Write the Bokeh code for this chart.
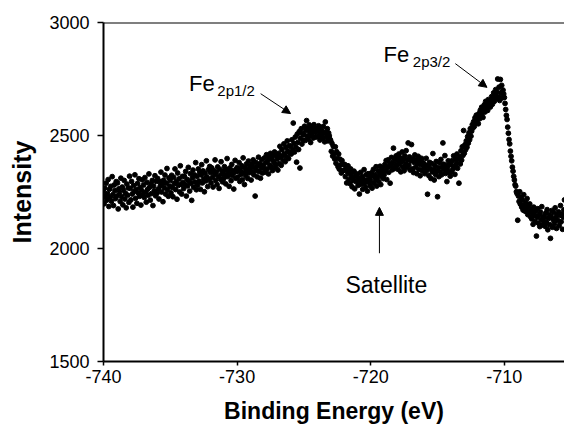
from bokeh.plotting import figure
from bokeh.models import (Range1d, Span, Arrow, NormalHead, Label, FixedTicker,
                          ColumnDataSource)
from bokeh.embed import file_html
from bokeh.resources import INLINE

# Binding energy sampling (eV): start and step of the scan
energy_start = -740.0
energy_step = 0.05

# Measured intensities, 20 samples per eV (rows start at -740, -739, ...)
intensity = [
    2251, 2198, 2267, 2230, 2289, 2214, 2243, 2305, 2186, 2262, 2227, 2275, 2209, 2318, 2238, 2190, 2281, 2256, 2221, 2296,
    2232, 2290, 2175, 2264, 2247, 2208, 2311, 2229, 2272, 2193, 2258, 2301, 2219, 2244, 2180, 2285, 2236, 2268, 2204, 2320,
    2266, 2215, 2297, 2241, 2183, 2279, 2253, 2326, 2222, 2262, 2200, 2288, 2245, 2309, 2231, 2270, 2192, 2257, 2304, 2238,
    2281, 2226, 2314, 2249, 2205, 2293, 2262, 2236, 2330, 2271, 2214, 2286, 2243, 2301, 2190, 2276, 2255, 2322, 2233, 2297,
    2244, 2310, 2263, 2219, 2296, 2277, 2338, 2250, 2285, 2207, 2302, 2268, 2325, 2241, 2289, 2354, 2259, 2231, 2312, 2276,
    2301, 2246, 2324, 2270, 2229, 2315, 2287, 2352, 2261, 2296, 2218, 2334, 2279, 2308, 2250, 2366, 2284, 2241, 2319, 2293,
    2265, 2320, 2283, 2341, 2232, 2306, 2277, 2359, 2298, 2254, 2331, 2289, 2213, 2312, 2347, 2271, 2326, 2294, 2380, 2260,
    2319, 2281, 2352, 2298, 2337, 2262, 2326, 2371, 2290, 2343, 2309, 2251, 2332, 2299, 2388, 2316, 2274, 2349, 2305, 2363,
    2336, 2290, 2357, 2314, 2272, 2345, 2326, 2392, 2301, 2338, 2283, 2361, 2319, 2266, 2350, 2307, 2384, 2329, 2295, 2342,
    2309, 2362, 2327, 2286, 2349, 2398, 2318, 2339, 2275, 2356, 2331, 2300, 2372, 2322, 2345, 2263, 2337, 2390, 2311, 2351,
    2358, 2316, 2341, 2380, 2297, 2349, 2328, 2366, 2304, 2401, 2337, 2283, 2356, 2322, 2374, 2343, 2310, 2387, 2335, 2362,
    2351, 2303, 2373, 2338, 2392, 2326, 2359, 2232, 2381, 2345, 2317, 2366, 2404, 2340, 2375, 2311, 2357, 2393, 2334, 2369,
    2356, 2401, 2338, 2379, 2415, 2352, 2388, 2330, 2404, 2369, 2421, 2361, 2395, 2345, 2410, 2383, 2427, 2372, 2358, 2412,
    2396, 2347, 2421, 2375, 2452, 2402, 2368, 2437, 2410, 2389, 2463, 2420, 2384, 2448, 2405, 2476, 2431, 2398, 2455, 2422,
    2452, 2418, 2481, 2436, 2555, 2465, 2427, 2493, 2449, 2382, 2506, 2470, 2438, 2517, 2356, 2488, 2530, 2462, 2509, 2478,
    2503, 2541, 2478, 2522, 2566, 2497, 2530, 2485, 2547, 2512, 2469, 2536, 2501, 2525, 2489, 2548, 2514, 2531, 2493, 2520,
    2527, 2496, 2543, 2512, 2480, 2535, 2503, 2521, 2488, 2540, 2509, 2472, 2560, 2515, 2493, 2530, 2476, 2511, 2498, 2483,
    2478, 2430, 2465, 2409, 2452, 2418, 2396, 2450, 2377, 2428, 2399, 2362, 2418, 2351, 2395, 2370, 2334, 2389, 2343, 2372,
    2347, 2372, 2318, 2353, 2290, 2339, 2366, 2305, 2331, 2287, 2352, 2316, 2273, 2335, 2301, 2342, 2264, 2318, 2296, 2330,
    2322, 2279, 2310, 2241, 2296, 2337, 2284, 2318, 2262, 2305, 2349, 2290, 2271, 2326, 2302, 2254, 2331, 2293, 2315, 2277,
    2298, 2335, 2267, 2319, 2350, 2288, 2327, 2304, 2362, 2276, 2315, 2343, 2297, 2330, 2364, 2283, 2341, 2318, 2357, 2309,
    2326, 2371, 2343, 2389, 2305, 2358, 2392, 2337, 2374, 2289, 2366, 2403, 2348, 2381, 2444, 2353, 2396, 2362, 2410, 2372,
    2391, 2350, 2418, 2372, 2401, 2339, 2385, 2427, 2361, 2396, 2344, 2410, 2376, 2433, 2358, 2392, 2467, 2369, 2405, 2347,
    2388, 2460, 2352, 2397, 2336, 2381, 2414, 2359, 2392, 2331, 2373, 2408, 2350, 2386, 2322, 2371, 2399, 2344, 2380, 2357,
    2374, 2331, 2362, 2399, 2345, 2240, 2368, 2322, 2381, 2353, 2310, 2376, 2339, 2420, 2348, 2303, 2366, 2327, 2385, 2342,
    2229, 2357, 2318, 2379, 2340, 2394, 2326, 2361, 2467, 2373, 2349, 2411, 2332, 2368, 2296, 2354, 2388, 2337, 2371, 2320,
    2372, 2339, 2389, 2351, 2410, 2363, 2328, 2397, 2376, 2418, 2355, 2393, 2289, 2406, 2374, 2432, 2391, 2450, 2412, 2522,
    2421, 2459, 2437, 2476, 2448, 2495, 2466, 2512, 2481, 2530, 2497, 2519, 2548, 2533, 2561, 2540, 2578, 2556, 2590, 2568,
    2583, 2552, 2597, 2574, 2612, 2589, 2625, 2601, 2580, 2618, 2636, 2604, 2651, 2622, 2643, 2611, 2659, 2630, 2648, 2626,
    2645, 2672, 2638, 2660, 2689, 2651, 2676, 2703, 2664, 2692, 2750, 2672, 2714, 2655, 2748, 2689, 2722, 2667, 2701, 2684,
    2668, 2642, 2615, 2589, 2571, 2537, 2510, 2482, 2463, 2431, 2408, 2388, 2360, 2342, 2319, 2303, 2282, 2276, 2251, 2243,
    2125, 2232, 2208, 2251, 2196, 2227, 2183, 2214, 2170, 2238, 2192, 2165, 2203, 2179, 2221, 2150, 2188, 2162, 2197, 2141,
    2172, 2131, 2158, 2107, 2183, 2146, 2119, 2165, 2055, 2138, 2176, 2112, 2149, 2097, 2161, 2128, 2185, 2104, 2142, 2121,
    2139, 2098, 2157, 2115, 2172, 2083, 2133, 2150, 2106, 2045, 2141, 2168, 2094, 2127, 2159, 2110, 2180, 2136, 2089, 2148,
    2124, 2162, 2101, 2147, 2190, 2118, 2153, 2085, 2139, 2171, 2215,
]
energy = [round(energy_start + energy_step * i, 2) for i in range(len(intensity))]

x_ticks = [-740, -730, -720, -710]
x_tick_labels = ["-740", "-730", "-720", "-710"]
y_ticks = [1500, 2000, 2500, 3000]
x_title = "Binding Energy (eV)"
y_title = "Intensity"

FONT = "Liberation Sans"

p = figure(width=564, height=426, output_backend="svg", toolbar_location=None,
           x_range=Range1d(-740, -705.5), y_range=Range1d(1500, 3000),
           min_border_left=103, min_border_right=0, min_border_top=22,
           min_border_bottom=64)
p.outline_line_color = None
p.xgrid.visible = False
p.ygrid.visible = False
p.background_fill_color = "white"
p.border_fill_color = "white"

src = ColumnDataSource(dict(energy=energy, intensity=intensity))
p.scatter("energy", "intensity", source=src, size=4.8, color="black")

for ax in (p.xaxis[0], p.yaxis[0]):
    ax.axis_line_width = 2
    ax.axis_line_color = "black"
    ax.major_tick_line_width = 1.5
    ax.major_tick_line_color = "black"
    ax.minor_tick_line_color = None
    ax.major_tick_in = 0
    ax.major_label_text_font = FONT
    ax.major_label_text_font_size = "18px"
    ax.major_label_text_color = "black"
    ax.axis_label_text_font = FONT
    ax.axis_label_text_font_style = "bold"
    ax.axis_label_text_color = "black"

xa = p.xaxis[0]
ya = p.yaxis[0]
xa.ticker = FixedTicker(ticks=x_ticks)
xa.major_label_overrides = {t: s for t, s in zip(x_ticks, x_tick_labels)}
ya.ticker = FixedTicker(ticks=y_ticks)
xa.major_tick_out = 4
ya.major_tick_out = 6
xa.major_label_standoff = 4
ya.major_label_standoff = 8

xa.axis_label = x_title
xa.axis_label_text_font_size = "23px"
xa.axis_label_standoff = 12
ya.axis_label = y_title
ya.axis_label_text_font_size = "25px"
ya.axis_label_standoff = 10

# top border line
p.add_layout(Span(location=3000, dimension="width", line_color="black", line_width=2))

# annotations
def note(x, y, text, size, align="left"):
    p.add_layout(Label(x=x, y=y, text=text, text_font=FONT, text_font_size=size,
                       text_align=align, text_baseline="alphabetic", text_color="black"))

note(-733.6, 2729, "Fe", "22px")
note(-731.48, 2699, "2p1/2", "15px")
note(-719.05, 2857, "Fe", "22px")
note(-716.85, 2829, "2p3/2", "15px")
note(-718.83, 1838, "Satellite", "23px", align="center")

def arrow(x0, y0, x1, y1):
    p.add_layout(Arrow(end=NormalHead(size=8, fill_color="black", line_color="black"),
                       x_start=x0, y_start=y0, x_end=x1, y_end=y1,
                       line_color="black", line_width=1))

arrow(-728.24, 2685, -726.0, 2597)
arrow(-713.67, 2818, -711.3, 2713)
arrow(-719.35, 1979, -719.35, 2182)

open("out.html", "w").write(file_html(p, INLINE))
